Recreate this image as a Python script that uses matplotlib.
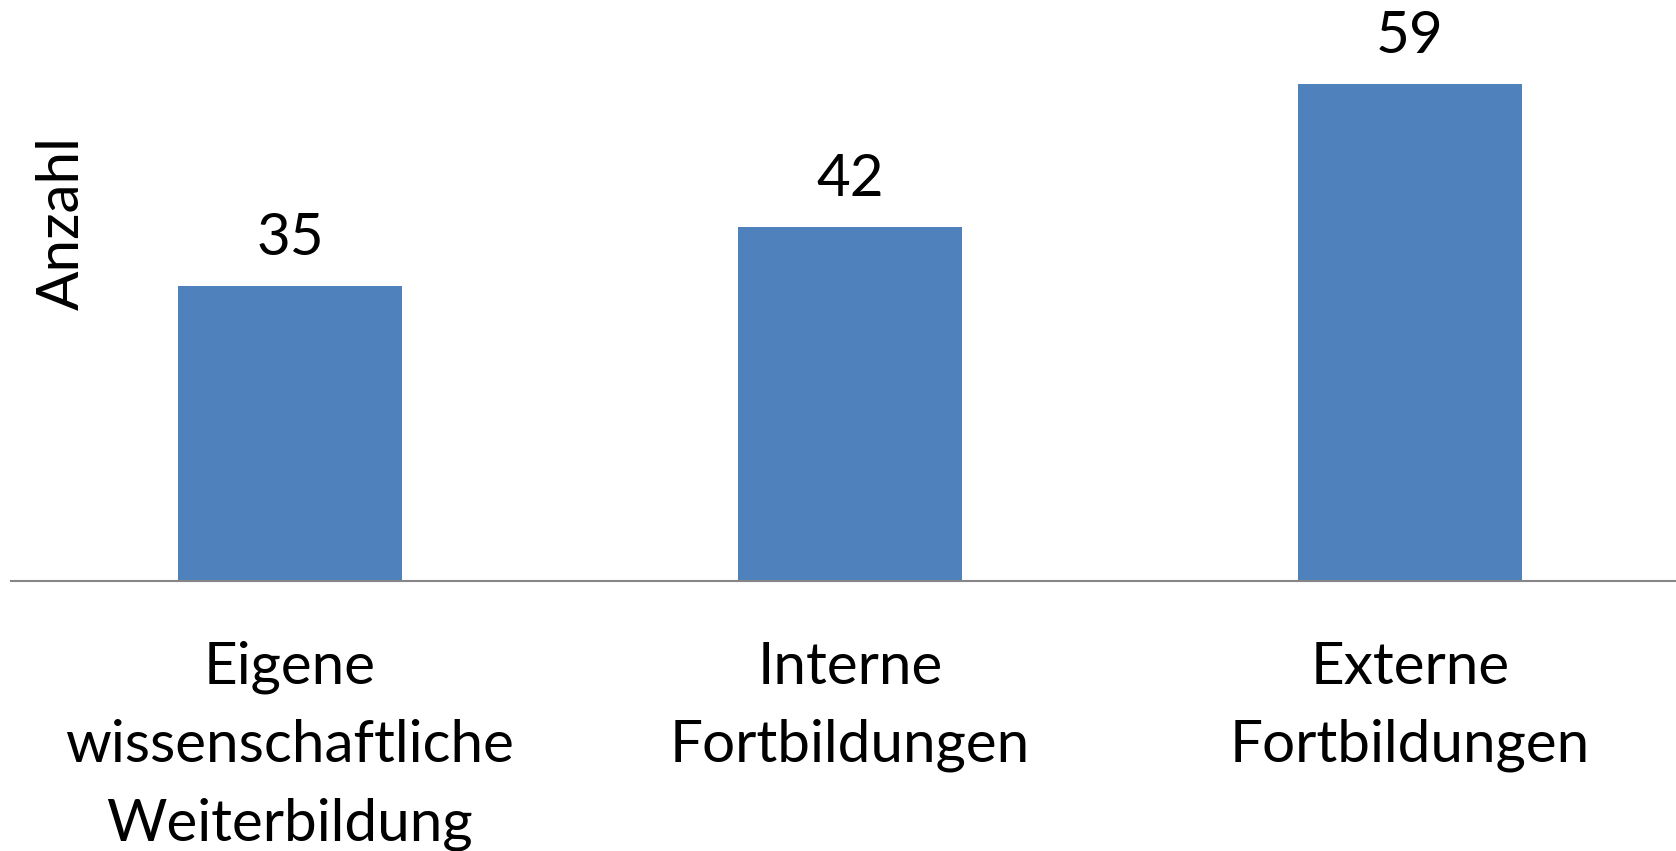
import matplotlib
matplotlib.use("Agg")
import matplotlib.pyplot as plt

# -----------------------------
# Data
# -----------------------------
categories = ["Eigene\nwissenschaftliche\nWeiterbildung", "Interne\nFortbildungen", "Externe\nFortbildungen"]
values = [35, 42, 59]
y_label = "Anzahl"

plt.rcParams['font.family'] = ['Lato', 'DejaVu Sans']

fig = plt.figure(figsize=(16.76, 8.51), dpi=100)
ax = fig.add_axes([11 / 1676, 270 / 851, 1 - 11 / 1676, 581 / 851])

x = range(len(categories))
ax.bar(x, values, width=0.4, color="#4f81bd", zorder=2)

for xi, v in zip(x, values):
    ax.text(xi, v + 2.5, str(v), ha="center", va="bottom", fontsize=42)

ax.set_xlim(-0.498, 2.475)
ax.set_ylim(0, 69.0)

ax.set_xticks(list(x))
ax.set_xticklabels(categories, fontsize=42, linespacing=1.58)
ax.tick_params(axis="x", length=0, pad=43)
ax.set_yticks([])

for side in ["top", "right", "left"]:
    ax.spines[side].set_visible(False)
ax.spines["bottom"].set_color("#868686")
ax.spines["bottom"].set_linewidth(1.5)

fig.text(62 / 1676, 1 - 223 / 851, y_label, rotation=90, ha="center", va="center", fontsize=42)

fig.savefig("out.png", dpi=100)
